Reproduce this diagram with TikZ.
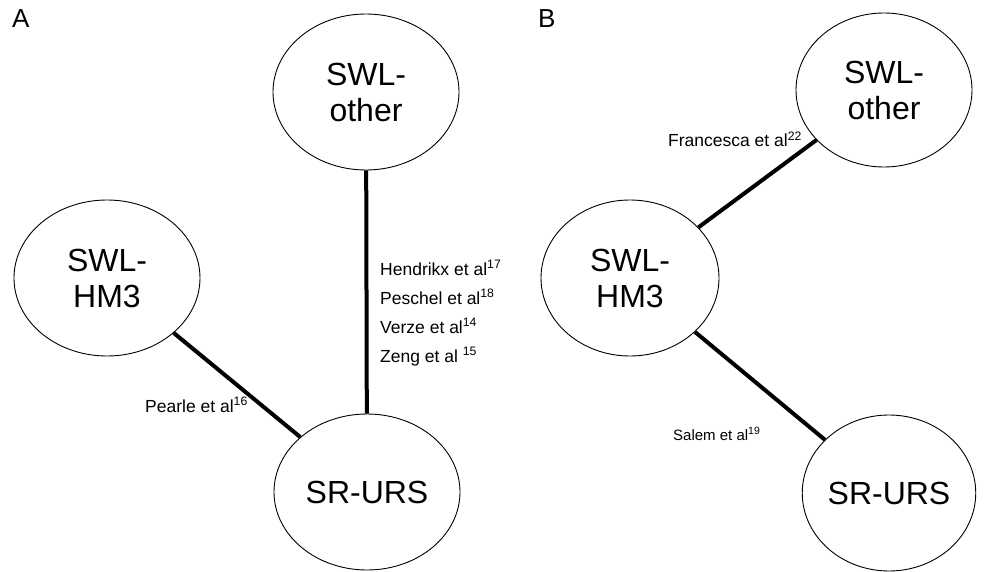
\documentclass[tikz,border=0pt]{standalone}
\usepackage{fontspec}
\setmainfont{Liberation Sans}
\usetikzlibrary{shapes.geometric}

\tikzset{
  blob/.style={ellipse, draw, line width=0.9pt, inner sep=0pt, align=center,
    minimum width=186pt, minimum height=156pt,
    font=\fontsize{32}{36}\selectfont},
  link/.style={line width=4pt},
  ref/.style={anchor=base west, inner sep=0pt, font=\fontsize{17.5}{20}\selectfont},
  panel/.style={anchor=base west, inner sep=0pt, font=\fontsize{26}{28}\selectfont}
}

\begin{document}
\begin{tikzpicture}[x=1pt, y=-1pt]

  \useasboundingbox (0,0) rectangle (985,572);

  % panel A
  \node [panel] (labA) at (12,28) {A};

  \node [blob] (otherA) at (366,92) {SWL-\\other};
  \node [blob] (hm3A) at (107,278) {SWL-\\HM3};
  \node [blob] (ursA) at (367,492) {SR-URS};

  \draw [link] (otherA) -- (ursA);
  \draw [link] (hm3A) -- (ursA);

  \node [ref] (hendrikx) at (380,275) {Hendrikx et al\textsuperscript{17}};
  \node [ref] (peschel) at (380,304) {Peschel et al\textsuperscript{18}};
  \node [ref] (verze) at (380,333) {Verze et al\textsuperscript{14}};
  \node [ref] (zeng) at (380,362) {Zeng et al \textsuperscript{15}};
  \node [ref] (pearle) at (145,412) {Pearle et al\textsuperscript{16}};

  % panel B
  \node [panel] (labB) at (538,28) {B};

  \node [blob, minimum width=176pt, minimum height=154pt] (otherB) at (884,90) {SWL-\\other};
  \node [blob, minimum width=178pt] (hm3B) at (630,278) {SWL-\\HM3};
  \node [blob, minimum width=166pt] (ursB) at (889,493) {SR-URS};

  \draw [link] (hm3B) -- (otherB);
  \draw [link] (hm3B) -- (ursB);

  \node [ref] (francesca) at (668,147) {Francesca et al\textsuperscript{22}};
  \node [ref, font=\fontsize{15}{18}\selectfont] (salem) at (673,440) {Salem et al\textsuperscript{19}};

\end{tikzpicture}
\end{document}
